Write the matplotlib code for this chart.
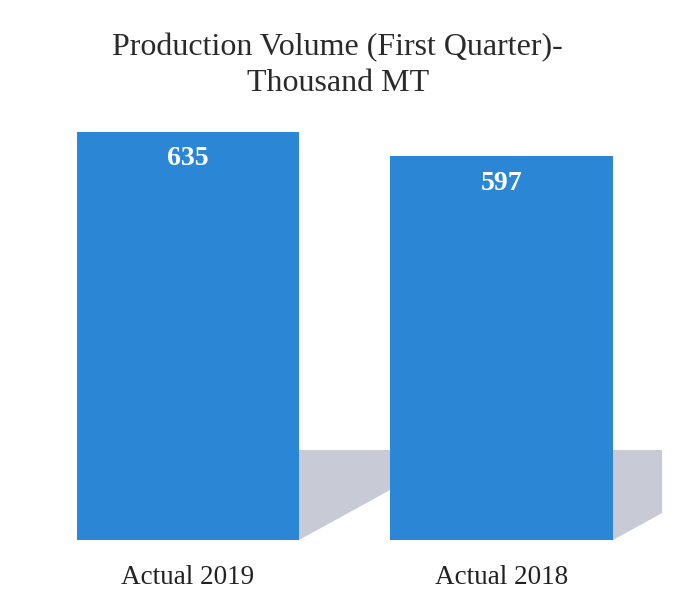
import matplotlib
matplotlib.use("Agg")
import matplotlib.pyplot as plt
from matplotlib.patches import Polygon

categories = ["Actual 2019", "Actual 2018"]
values = [635, 597]
title = "Production Volume (First Quarter)-\nThousand MT"

bar_color = "#2b87d6"
shadow_color = "#c8cad6"

fig = plt.figure(figsize=(6.73, 5.94), dpi=100)
ax = fig.add_axes([0.0416, 0.0909, 0.942, 0.7576])
x = list(range(len(categories)))
width = 0.71
bars = ax.bar(x, values, width=width, color=bar_color, zorder=3)

ax.set_xlim(-0.51, 1.51)
ax.set_ylim(0, 700)

# floor shadows behind bars
for b in bars:
    r = b.get_x() + b.get_width()
    poly = Polygon([(r, 0), (r, 140), (r + 0.52, 140)], closed=True,
                   facecolor=shadow_color, edgecolor="none", zorder=1)
    ax.add_patch(poly)

for b, v in zip(bars, values):
    ax.annotate(str(v), (b.get_x() + b.get_width() / 2, v), xytext=(0, -19.5),
                textcoords="offset points", ha="center", va="center",
                color="white", fontsize=20, fontweight="bold",
                family="Liberation Serif", zorder=4)

ax.set_xticks(x)
ax.set_xticklabels(categories, family="Liberation Serif", fontsize=19.5, color="#222222")
ax.tick_params(axis="x", length=0, pad=18)
ax.set_yticks([])
for s in ax.spines.values():
    s.set_visible(False)

fig.text(0.502, 0.945, title, ha="center", va="top", family="Liberation Serif",
         fontsize=23, color="#2a2a2a", linespacing=1.3)

fig.savefig("out.png", dpi=100, facecolor="white")
